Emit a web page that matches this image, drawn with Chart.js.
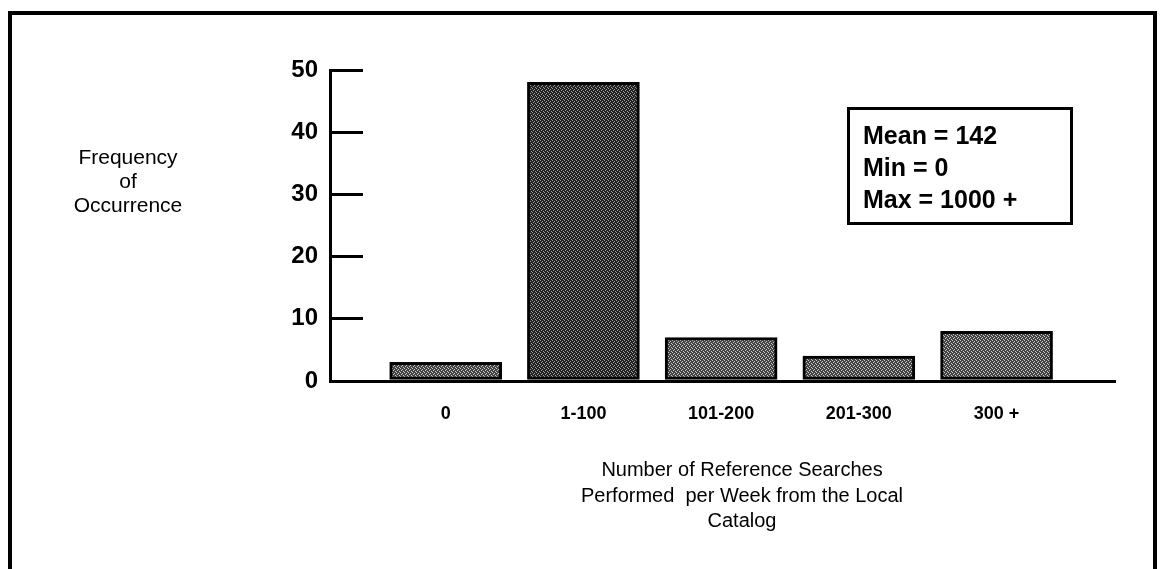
<!DOCTYPE html>
<html>
<head>
<meta charset="utf-8">
<script src="https://cdn.jsdelivr.net/npm/chart.js@4.4.1/dist/chart.umd.min.js"></script>
<style>
  body { margin: 0; background: #fff; }
  #wrap { position: relative; width: 1160px; height: 569px; overflow: hidden; }
  #frame { position: absolute; left: 8px; top: 11px; width: 1141px; height: 620px;
           border: 4px solid #000; border-bottom: none; }
  canvas { position: absolute; left: 0; top: 0; }
  .txt { position: absolute; font-family: "Liberation Sans", Arial, sans-serif; color: #000; }
  #ylab { left: 58px; top: 145px; width: 140px; text-align: center; font-size: 21px; line-height: 24px; }
  #stats { left: 847px; top: 107px; border: 3px solid #000;
           padding: 9px 0 0 13px; box-sizing: border-box; width: 226px; height: 118px;
           font-weight: bold; font-size: 25px; line-height: 32px; }
  #xlab { left: 442px; top: 457px; width: 600px; text-align: center; font-size: 20px; line-height: 25.5px; }
</style>
</head>
<body>
<div id="wrap">
  <div id="frame"></div>
  <canvas id="chart" width="1160" height="569"></canvas>
  <div class="txt" id="ylab">Frequency<br>of<br>Occurrence</div>
  <div class="txt" id="stats">Mean = 142<br>Min = 0<br>Max = 1000 +</div>
  <div class="txt" id="xlab">Number of Reference Searches<br>Performed&nbsp; per Week from the Local<br>Catalog</div>
</div>
<script>
const categories = ["0", "1-100", "101-200", "201-300", "300 +"];
const frequency = [3, 48, 7, 4, 8];
const yTicks = [0, 10, 20, 30, 40, 50];

function makePattern(dark, light) {
  const c = document.createElement("canvas");
  c.width = 4; c.height = 4;
  const g = c.getContext("2d");
  g.fillStyle = dark;
  g.fillRect(0, 0, 4, 4);
  g.fillStyle = light;
  [[0, 0], [2, 1], [1, 2], [3, 3]].forEach(p => g.fillRect(p[0], p[1], 1, 1));
  return document.getElementById("chart").getContext("2d").createPattern(c, "repeat");
}
const darkFill = makePattern("#222", "#9a9a9a");
const lightFill = makePattern("#444", "#c8c8c8");

const ctx = document.getElementById("chart").getContext("2d");
const chart = new Chart(ctx, {
  type: "bar",
  data: {
    datasets: [{
      data: frequency.map((v, i) => ({ x: i, y: v })),
      backgroundColor: frequency.map((v, i) => i === 1 ? darkFill : lightFill),
      borderColor: "#000",
      borderWidth: 3,
      borderSkipped: false,
      barThickness: 112,
    }],
  },
  options: {
    responsive: false,
    animation: false,
    layout: { padding: { top: 70, right: 45, left: 0, bottom: 0 } },
    plugins: { legend: { display: false }, tooltip: { enabled: false } },
    scales: {
      x: {
        type: "linear",
        offset: false,
        min: -0.84,
        max: 4.86,
        afterBuildTicks: (s) => { s.ticks = categories.map((c, i) => ({ value: i })); },
        afterFit: (s) => { s.height = 188; },
        grid: { display: false, drawTicks: false },
        border: { display: true, color: "#000", width: 3 },
        ticks: {
          padding: 22,
          color: "#000",
          font: { family: "'Liberation Sans Narrow', 'Liberation Sans', sans-serif", size: 18, weight: "bold" },
          callback: (v) => categories[v] ?? "",
        },
      },
      y: {
        min: 0,
        max: 50,
        afterBuildTicks: (s) => { s.ticks = yTicks.map(v => ({ value: v })); },
        afterFit: (s) => { s.width = 330; },
        grid: { drawOnChartArea: false, drawTicks: true, tickLength: -33, color: "#000", lineWidth: 3 },
        border: { display: true, color: "#000", width: 3 },
        ticks: {
          padding: 45,
          color: "#000",
          font: { family: "'Liberation Sans', sans-serif", size: 24, weight: "bold" },
        },
      },
    },
  },
});
</script>
</body>
</html>
